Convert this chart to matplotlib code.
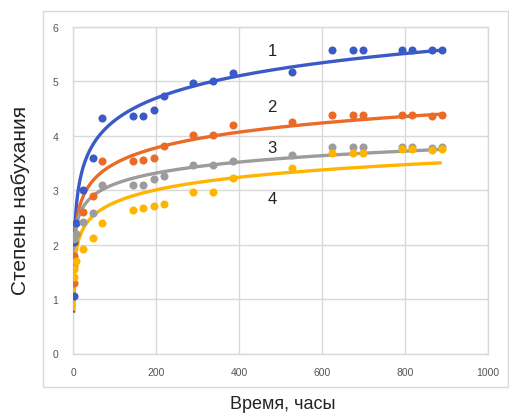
import numpy as np
import matplotlib
matplotlib.use("Agg")
import matplotlib.pyplot as plt
from matplotlib.patches import Rectangle

plt.rcParams['font.family'] = ['Liberation Sans', 'DejaVu Sans']

# Time, hours
hours = [0.25, 2, 5, 24, 46, 70, 143, 169, 194, 219, 289, 336, 385,
         527, 624, 674, 698, 793, 817, 865, 889]

series1 = [1.05, 2.05, 2.4, 3.0, 3.6, 4.33, 4.37, 4.37, 4.48, 4.73, 4.98, 5.0, 5.15,
           5.17, 5.58, 5.58, 5.58, 5.58, 5.58, 5.58, 5.58]
series2 = [1.3, 1.8, 2.2, 2.6, 2.9, 3.54, 3.54, 3.56, 3.59, 3.81, 4.02, 4.02, 4.19,
           4.26, 4.38, 4.38, 4.38, 4.38, 4.38, 4.37, 4.38]
series3 = [1.6, 2.1, 2.2, 2.42, 2.58, 3.1, 3.1, 3.1, 3.2, 3.26, 3.46, 3.46, 3.53,
           3.65, 3.79, 3.79, 3.79, 3.79, 3.79, 3.78, 3.79]
series4 = [1.4, 1.55, 1.7, 1.92, 2.13, 2.39, 2.64, 2.67, 2.71, 2.75, 2.97, 2.96, 3.23,
           3.4, 3.68, 3.68, 3.68, 3.75, 3.75, 3.74, 3.75]

labels = ['1', '2', '3', '4']
colors = ['#3A5BC7', '#EB6A25', '#9C9C9C', '#FFB400']
label_pos_x = [479, 479, 479, 479]
label_pos_y = [5.56, 4.53, 3.79, 2.84]

x_ticks = [0, 200, 400, 600, 800, 1000]
y_ticks = [0, 1, 2, 3, 4, 5, 6]

fig = plt.figure(figsize=(5.10, 4.14), dpi=100)
# outer chart frame
fig.patches.append(Rectangle((43/510, 1-388/414), (508-43)/510, (388-12)/414,
                             transform=fig.transFigure, fill=False,
                             edgecolor='#D9D9D9', linewidth=1.0))
ax = fig.add_axes([73.5/510, 1-354.5/414, (487.7-73.5)/510, (354.5-28)/414])

t = np.array(hours, dtype=float)
for vals, col in zip([series1, series2, series3, series4], colors):
    v = np.array(vals, dtype=float)
    a, b = np.polyfit(np.log(t), v, 1)
    tt = np.linspace(t.min(), t.max(), 800)
    ax.plot(tt, a*np.log(tt) + b, color=col, lw=2.4, zorder=3, solid_capstyle='butt')
    ax.plot(t, v, 'o', color=col, ms=5.8, mec='none', zorder=4)

for lab, lx, ly in zip(labels, label_pos_x, label_pos_y):
    ax.text(lx, ly, lab, fontsize=12, color='#222222', ha='center', va='center', zorder=5)

ax.set_xlim(0, 1000)
ax.set_ylim(0, 6)
ax.set_xticks(x_ticks)
ax.set_yticks(y_ticks)
ax.set_xticklabels([str(v) for v in x_ticks])
ax.set_yticklabels([str(v) for v in y_ticks])
ax.grid(True, color='#D9D9D9', lw=1.0, zorder=0)
ax.set_axisbelow(True)
for s in ax.spines.values():
    s.set_color('#D9D9D9')
    s.set_linewidth(1.0)
ax.tick_params(length=0, labelsize=7.5, colors='#555555')
ax.tick_params(axis='x', pad=10)
ax.tick_params(axis='y', pad=11)

fig.text(283/510, 1-405/414, 'Время, часы', fontsize=13, color='#222222', ha='center', va='center')
fig.text(21/510, 1-200/414, 'Степень набухания', fontsize=15, color='#222222',
         ha='center', va='center', rotation=90)

fig.savefig('out.png', dpi=100)
